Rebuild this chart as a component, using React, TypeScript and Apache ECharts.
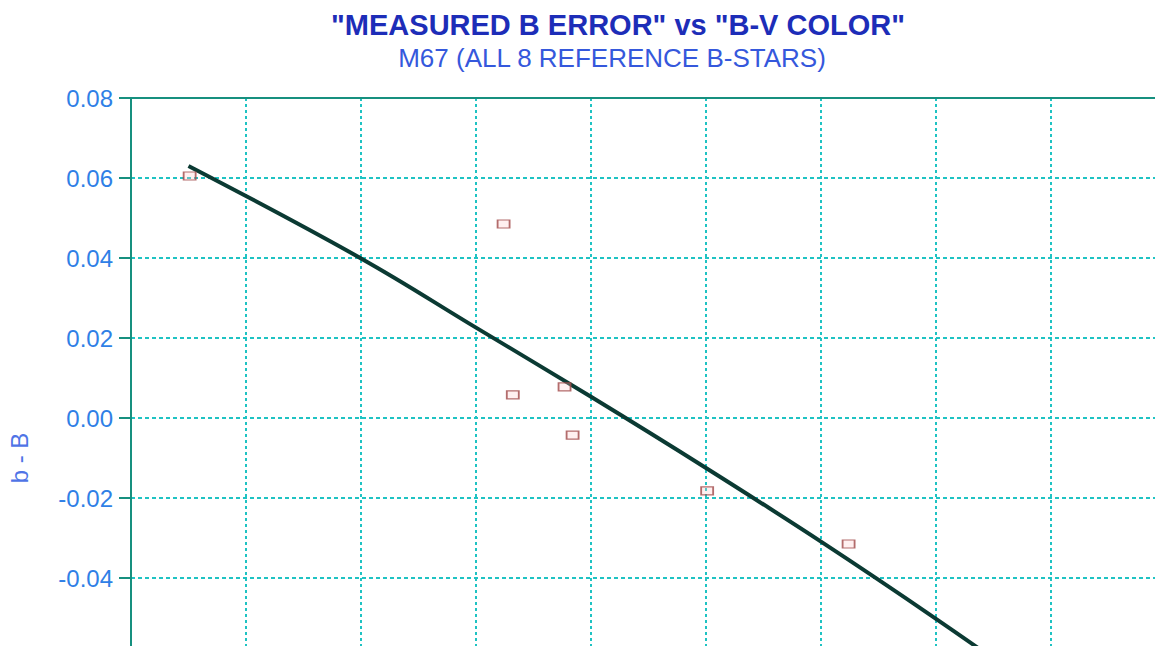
import React, { useEffect, useRef } from "react";
import * as echarts from "echarts";

// ---- data ----
const titleText = '"MEASURED B ERROR" vs "B-V COLOR"';
const subtitleText = "M67 (ALL 8 REFERENCE B-STARS)";
const yAxisName = "b - B";

// measured stars: B-V colour and b - B error
const starBV = [0.451, 0.724, 0.732, 0.777, 0.784, 0.901, 1.024];
const starErr = [0.0605, 0.0485, 0.0058, 0.0078, -0.0043, -0.0182, -0.0315];

// fitted trend line
const fitBV = [0.45, 0.6, 0.7, 0.8, 0.9, 1.0, 1.1, 1.2];
const fitErr = [0.063, 0.0399, 0.0226, 0.0053, -0.0125, -0.0309, -0.0502, -0.0703];

const xMin = 0.4;
const xMax = 1.3;
const xStep = 0.1;
const yMin = -0.08;
const yMax = 0.08;
const yStep = 0.02;

const FONT = '"Liberation Sans", Arial, Helvetica, sans-serif';
const TEAL = "#16907f";
const GRID = "#1fc3c3";
const LABEL = "#2f7fe6";

export default function App() {
  const ref = useRef<HTMLDivElement>(null);

  useEffect(() => {
    document.body.style.overflow = "hidden";
    document.documentElement.style.overflow = "hidden";
    if (!ref.current) return;
    const chart = echarts.init(ref.current, undefined, { renderer: "svg" });
    const option: any = {
      animation: false,
      backgroundColor: "#ffffff",
      grid: { left: 131, top: 98, width: 1035, height: 640, containLabel: false },
      graphic: [
        {
          type: "text",
          x: 618,
          y: 25,
          style: {
            text: titleText,
            fill: "#1d2db8",
            fontSize: 29,
            fontWeight: "bold",
            fontFamily: FONT,
            textAlign: "center",
            textVerticalAlign: "middle",
          },
        },
        {
          type: "text",
          x: 612,
          y: 58,
          style: {
            text: subtitleText,
            fill: "#3558dc",
            fontSize: 26,
            fontFamily: FONT,
            textAlign: "center",
            textVerticalAlign: "middle",
          },
        },
        {
          type: "text",
          x: 19,
          y: 458,
          rotation: Math.PI / 2,
          style: {
            text: yAxisName,
            fill: "#4f74e6",
            fontSize: 24,
            fontFamily: FONT,
            textAlign: "center",
            textVerticalAlign: "middle",
          },
        },
      ],
      xAxis: [
        {
          type: "value",
          min: xMin,
          max: xMax,
          interval: xStep,
          position: "bottom",
          axisLine: { show: true, onZero: false, lineStyle: { color: TEAL, width: 2 } },
          axisTick: { show: false },
          axisLabel: { show: false },
          splitLine: {
            show: true,
            lineStyle: { color: GRID, width: 2, type: [3, 3] },
          },
        },
        {
          type: "value",
          min: xMin,
          max: xMax,
          interval: xStep,
          position: "top",
          axisLine: {
            show: true,
            onZero: false,
            lineStyle: { color: TEAL, width: 2 },
          },
          axisTick: { show: false },
          axisLabel: { show: false },
          splitLine: { show: false },
        },
      ],
      yAxis: {
        type: "value",
        min: yMin,
        max: yMax,
        interval: yStep,
        axisLine: { show: true, onZero: false, lineStyle: { color: TEAL, width: 2 } },
        axisTick: { show: true, length: 12, lineStyle: { color: TEAL, width: 2 } },
        axisLabel: {
          margin: 18,
          color: LABEL,
          fontSize: 24,
          fontFamily: FONT,
          formatter: (v: number) => v.toFixed(2),
        },
        splitLine: {
          show: true,
          lineStyle: { color: GRID, width: 2, type: [4, 3] },
        },
      },
      series: [
        {
          type: "line",
          data: fitBV.map((x, i) => [x, fitErr[i]]),
          smooth: 0.4,
          showSymbol: false,
          symbol: "none",
          lineStyle: { color: "#0b3a33", width: 4 },
          z: 3,
        },
        {
          type: "scatter",
          data: starBV.map((x, i) => [x, starErr[i]]),
          symbol: "rect",
          symbolSize: [12, 8],
          itemStyle: {
            color: "rgba(255,200,200,0.35)",
            borderColor: "#a04848",
            borderWidth: 1.5,
          },
          z: 4,
        },
      ],
    };
    chart.setOption(option);
    return () => chart.dispose();
  }, []);

  return (
    <div
      ref={ref}
      style={{ position: "fixed", left: 0, top: 0, width: 1185, height: 780 }}
    />
  );
}
